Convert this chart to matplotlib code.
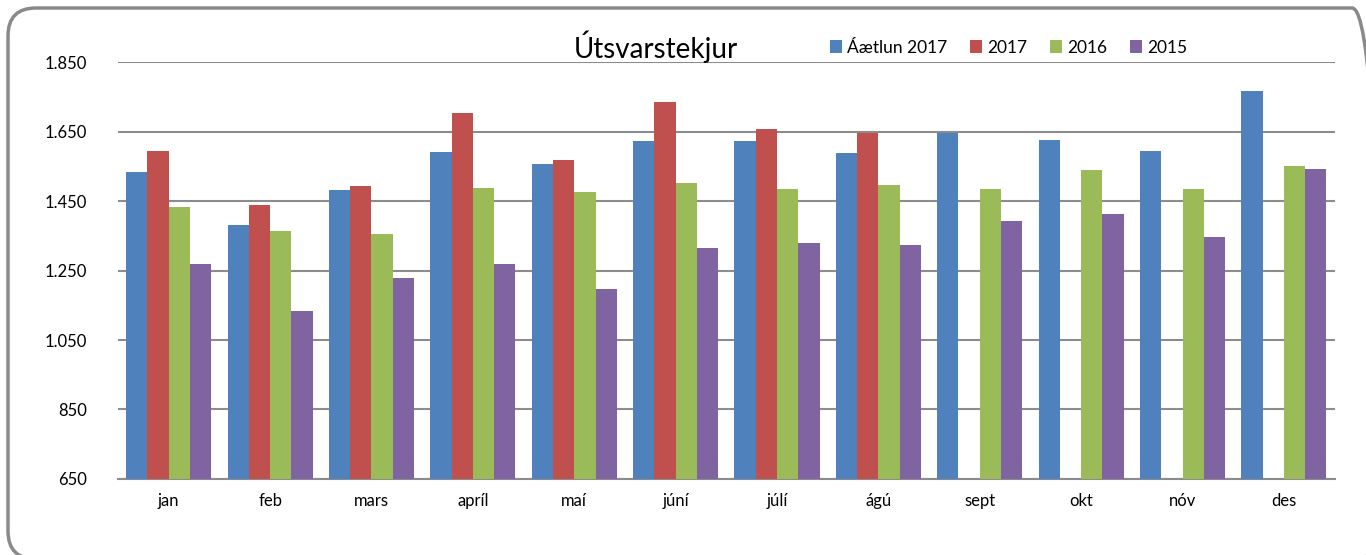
import numpy as np
import matplotlib
matplotlib.use("Agg")
import matplotlib.pyplot as plt
from matplotlib.patches import FancyBboxPatch
from matplotlib.transforms import IdentityTransform
from matplotlib.ticker import FuncFormatter

plt.rcParams['font.family'] = ['Lato', 'DejaVu Sans']

# Data
months = ["jan", "feb", "mars", "apríl", "maí", "júní",
          "júlí", "ágú", "sept", "okt", "nóv", "des"]
aaetlun_2017 = [1535, 1381, 1483, 1592, 1556, 1623, 1623, 1589, 1647, 1626, 1594, 1766]
y2017 = [1594, 1439, 1494, 1703, 1568, 1735, 1658, 1647, np.nan, np.nan, np.nan, np.nan]
y2016 = [1434, 1365, 1355, 1488, 1476, 1501, 1484, 1497, 1484, 1540, 1484, 1551]
y2015 = [1270, 1134, 1229, 1270, 1198, 1314, 1328, 1325, 1393, 1413, 1347, 1542]

series = [
    ("Áætlun 2017", aaetlun_2017, "#4F81BD"),
    ("2017", y2017, "#C0504D"),
    ("2016", y2016, "#9BBB59"),
    ("2015", y2015, "#8064A2"),
]

fig = plt.figure(figsize=(13.66, 5.55), dpi=100)

# rounded chart border in pixel coords; runs past the right/bottom edge
border = FancyBboxPatch((8, -4), 1372, 551,
                        boxstyle="round,pad=0,rounding_size=28",
                        transform=IdentityTransform(), fill=False,
                        edgecolor="#8a8a8a", linewidth=2.5)
fig.patches.append(border)

ax = fig.add_axes([0.0864, 0.137, 0.8906, 0.751])

x = np.arange(len(months))
width = 0.21
for i, (label, vals, color) in enumerate(series):
    ax.bar(x + (i - 1.5) * width, vals, width, bottom=0, label=label,
           color=color, edgecolor="none", zorder=3)

ax.set_ylim(650, 1850)
ax.set_xlim(-0.5, len(months) - 0.5)
ax.set_yticks(np.arange(650, 1851, 200))
ax.yaxis.set_major_formatter(FuncFormatter(lambda v, p: f"{int(v):,}".replace(",", ".")))
ax.set_xticks(x)
ax.set_xticklabels(months)
ax.tick_params(axis="both", length=0, labelsize=12, colors="black")
ax.tick_params(axis="x", pad=10)
ax.tick_params(axis="y", pad=22)

ax.grid(axis="y", color="#8c8c8c", linewidth=1.5, zorder=0)
for s in ["top", "right", "left"]:
    ax.spines[s].set_visible(False)
ax.spines["bottom"].set_color("#8c8c8c")
ax.spines["bottom"].set_linewidth(1.5)

fig.text(0.48, 0.915, "Útsvarstekjur", fontsize=20, ha="center", va="center")

ax.legend(loc="center", bbox_to_anchor=(0.732, 1.035), ncol=4, frameon=False,
          fontsize=12.5, handlelength=0.7, handleheight=0.7,
          handletextpad=0.3, columnspacing=1.3, borderaxespad=0)

fig.savefig("out.png", dpi=100)
